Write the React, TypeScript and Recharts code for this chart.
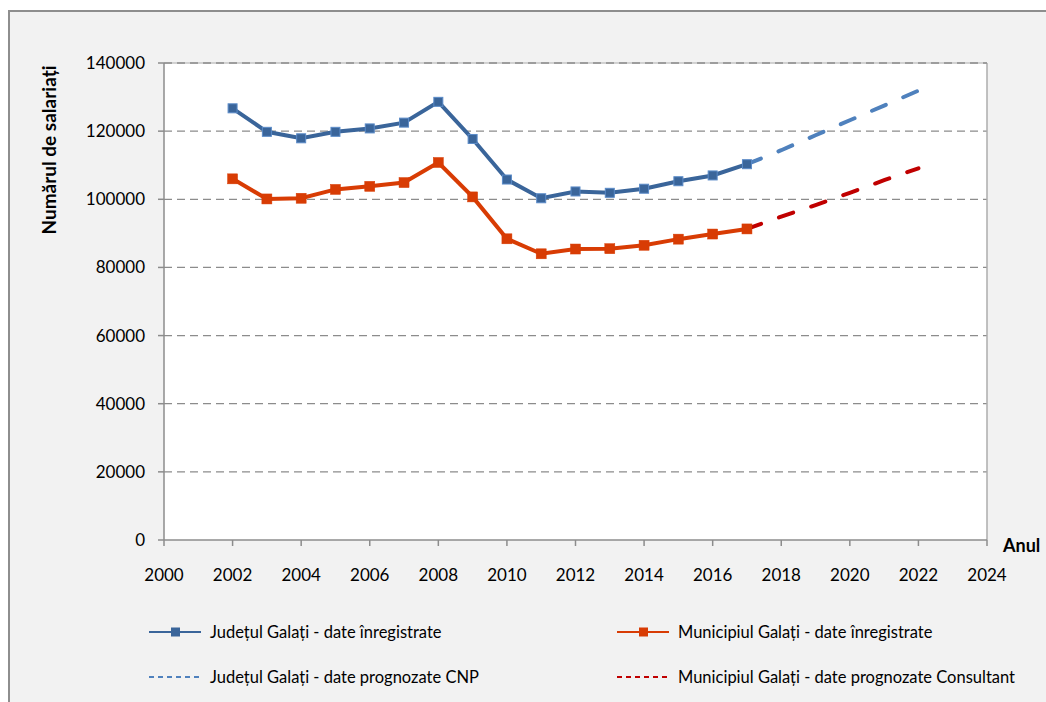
import React from 'react';
import { LineChart, Line, XAxis, YAxis, CartesianGrid, ReferenceLine, Legend } from 'recharts';

const recordedYears = [2002, 2003, 2004, 2005, 2006, 2007, 2008, 2009, 2010, 2011, 2012, 2013, 2014, 2015, 2016, 2017];
const countyRecorded = [126700, 119800, 117900, 119800, 120800, 122500, 128600, 117700, 105800, 100300, 102300, 101900, 103100, 105300, 107000, 110300];
const municipalRecorded = [106000, 100100, 100300, 102900, 103800, 104900, 110800, 100700, 88400, 84000, 85400, 85500, 86500, 88300, 89800, 91300];
const forecastYears = [2017, 2018, 2019, 2020, 2021, 2022];
const countyForecastCNP = [110300, 114400, 118800, 123200, 127500, 131900];
const municipalForecastConsultant = [91300, 94900, 98300, 101900, 105600, 109100];
const xTicks = [2000, 2002, 2004, 2006, 2008, 2010, 2012, 2014, 2016, 2018, 2020, 2022, 2024];
const yTicks = [0, 20000, 40000, 60000, 80000, 100000, 120000, 140000];
const seriesNames = [
  'Județul Galați - date înregistrate',
  'Municipiul Galați - date înregistrate',
  'Județul Galați - date prognozate CNP',
  'Municipiul Galați - date prognozate Consultant',
];
const yTitle = 'Numărul de salariați';
const xTitle = 'Anul';

const allYears = Array.from(new Set([...recordedYears, ...forecastYears])).sort((a, b) => a - b);
const data = allYears.map((year) => {
  const ri = recordedYears.indexOf(year);
  const fi = forecastYears.indexOf(year);
  return {
    year,
    county: ri >= 0 ? countyRecorded[ri] : null,
    municipal: ri >= 0 ? municipalRecorded[ri] : null,
    countyF: fi >= 0 ? countyForecastCNP[fi] : null,
    municipalF: fi >= 0 ? municipalForecastConsultant[fi] : null,
  };
});

const FONT = 'Lato, "Open Sans", sans-serif';
const BLUE = '#3A659A';
const BLUE_LIGHT = '#4F81BD';
const RED = '#D83C04';
const DARK_RED = '#C00000';

const BlueSquare = (props: any) => {
  const { cx, cy, index } = props;
  if (cx == null || cy == null) return <g key={`b${index}`} />;
  return <rect key={`b${index}`} x={cx - 4.5} y={cy - 4.5} width={9} height={9} fill={BLUE} stroke="#5B8BC8" strokeWidth={1} />;
};
const RedSquare = (props: any) => {
  const { cx, cy, index } = props;
  if (cx == null || cy == null) return <g key={`r${index}`} />;
  return <rect key={`r${index}`} x={cx - 5} y={cy - 5} width={10} height={10} fill={RED} stroke={RED} strokeWidth={0.5} />;
};

const LegendSample = ({ color, dashed, marker }: { color: string; dashed?: boolean; marker?: boolean }) => (
  <svg width={56} height={12} style={{ display: 'block' }}>
    <line x1={2} y1={6} x2={54} y2={6} stroke={color} strokeWidth={2} strokeDasharray={dashed ? '5 4' : undefined} />
    {marker && <rect x={24} y={1.5} width={9} height={9} fill={color} />}
  </svg>
);

const renderLegend = () => {
  const items = [
    { name: seriesNames[0], color: BLUE, marker: true },
    { name: seriesNames[1], color: RED, marker: true },
    { name: seriesNames[2], color: BLUE_LIGHT, dashed: true },
    { name: seriesNames[3], color: DARK_RED, dashed: true },
  ];
  return (
    <div style={{ position: 'relative', width: 1046, height: 90, fontFamily: FONT, fontSize: 16.5, color: '#000' }}>
      {items.map((it, i) => (
        <div
          key={it.name}
          style={{
            position: 'absolute',
            left: i % 2 === 0 ? 147 : 615,
            top: i < 2 ? 13 : 58,
            display: 'flex',
            alignItems: 'center',
            whiteSpace: 'nowrap',
          }}
        >
          <LegendSample color={it.color} dashed={it.dashed} marker={it.marker} />
          <span style={{ marginLeft: 7, lineHeight: '18px' }}>{it.name}</span>
        </div>
      ))}
    </div>
  );
};

export default function App() {
  return (
    <div style={{ position: 'absolute', left: 0, top: 0, width: 1046, height: 702, overflow: 'hidden', background: '#fff' }}>
      <div
        style={{
          position: 'absolute',
          left: 8,
          top: 10,
          width: 1100,
          height: 800,
          border: '2px solid #8E8E8E',
          background: '#F2F2F2',
          boxSizing: 'border-box',
        }}
      />
      <div style={{ position: 'absolute', left: 0, top: 0 }}>
        <LineChart width={1046} height={702} data={data} margin={{ top: 63, right: 59, bottom: 42, left: 104 }}>
          <CartesianGrid vertical={false} stroke="#8C8C8C" strokeWidth={1.3} strokeDasharray="8 5" fill="#FFFFFF" horizontalValues={yTicks.filter((v) => v > 0 && v < 140000)} />
          <ReferenceLine x={2024} stroke="#ADADAD" strokeWidth={1.5} />
          <ReferenceLine y={140000} stroke="#C4C4C4" strokeWidth={1.5} />
          <ReferenceLine y={140000} stroke="#8C8C8C" strokeWidth={1.3} strokeDasharray="8 5" />
          <XAxis
            dataKey="year"
            type="number"
            domain={[2000, 2024]}
            ticks={xTicks}
            interval={0}
            allowDataOverflow
            stroke="#8C8C8C"
            strokeWidth={1.5}
            tickSize={6}
            tickMargin={23}
            tick={{ fill: '#000', fontSize: 17, fontFamily: FONT }}
            label={{
              content: () => (
                <text x={1003} y={552} fontFamily={FONT} fontSize={18} fontWeight="bold" fill="#000">
                  {xTitle}
                </text>
              ),
            }}
          />
          <YAxis
            type="number"
            domain={[0, 140000]}
            ticks={yTicks}
            interval={0}
            width={60}
            stroke="#8C8C8C"
            strokeWidth={1.5}
            tickSize={6}
            tickMargin={13}
            tick={{ fill: '#000', fontSize: 17, fontFamily: FONT }}
            label={{
              content: () => (
                <text
                  x={48}
                  y={150}
                  transform="rotate(-90 48 150)"
                  textAnchor="middle"
                  dominantBaseline="central"
                  fontFamily={FONT}
                  fontSize={19}
                  fontWeight="bold"
                  fill="#000"
                >
                  {yTitle}
                </text>
              ),
            }}
          />
          <Legend verticalAlign="bottom" height={90} content={renderLegend} wrapperStyle={{ left: 0, top: 610, bottom: 'auto', width: 1046 }} />
          <Line
            dataKey="countyF"
            name={seriesNames[2]}
            stroke={BLUE_LIGHT}
            strokeWidth={4}
            strokeDasharray="15 19"
            strokeLinecap="round"
            dot={false}
            activeDot={false}
            isAnimationActive={false}
          />
          <Line
            dataKey="municipalF"
            name={seriesNames[3]}
            stroke={DARK_RED}
            strokeWidth={4}
            strokeDasharray="15 19"
            strokeLinecap="round"
            dot={false}
            activeDot={false}
            isAnimationActive={false}
          />
          <Line
            dataKey="county"
            name={seriesNames[0]}
            stroke={BLUE}
            strokeWidth={4}
            dot={BlueSquare}
            activeDot={false}
            isAnimationActive={false}
          />
          <Line
            dataKey="municipal"
            name={seriesNames[1]}
            stroke={RED}
            strokeWidth={4}
            dot={RedSquare}
            activeDot={false}
            isAnimationActive={false}
          />
        </LineChart>
      </div>
    </div>
  );
}
